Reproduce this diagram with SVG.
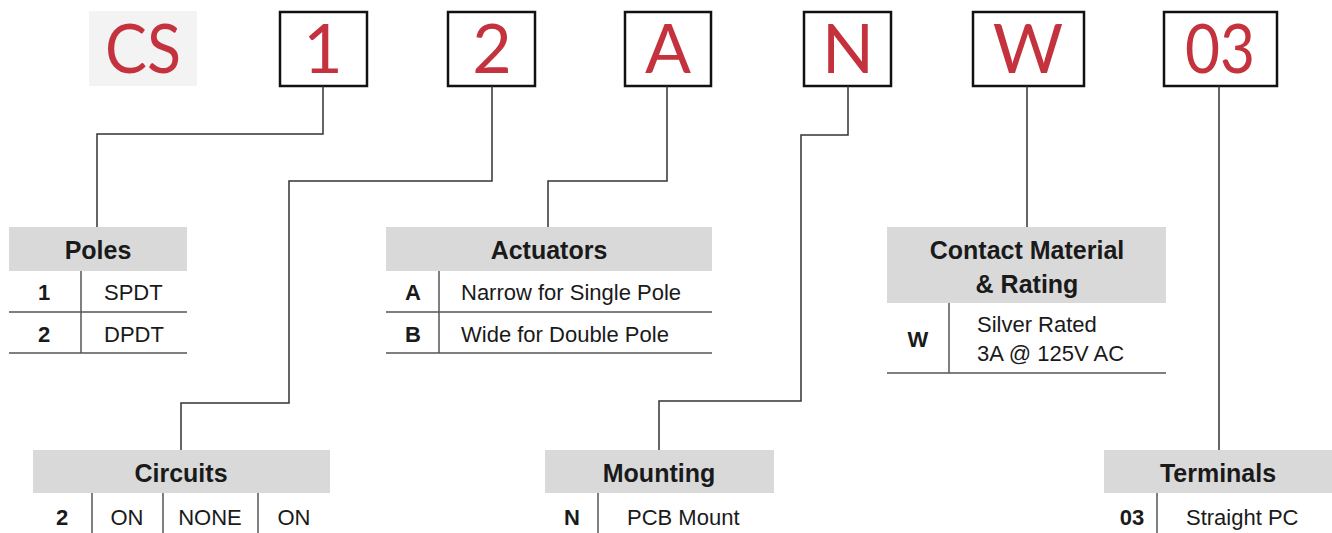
<svg xmlns="http://www.w3.org/2000/svg" width="1332" height="533" viewBox="0 0 1332 533">
<style>
.big{font-family:Lato,"Liberation Sans",Arial,sans-serif;font-weight:400;font-size:68px;fill:#c4323d;text-anchor:middle}
.box{fill:#fff;stroke:#111;stroke-width:2.5}
.hdr{fill:#d9d9d9}
.ht{font-family:"Liberation Sans",Arial,sans-serif;font-weight:bold;font-size:25px;fill:#1a1a1a;text-anchor:middle}
.bt{font-family:"Liberation Sans",Arial,sans-serif;font-size:22px;fill:#1a1a1a}
.bk{font-family:"Liberation Sans",Arial,sans-serif;font-weight:bold;font-size:22px;fill:#1a1a1a;text-anchor:middle}
.mid{text-anchor:middle}
.ln{stroke:#555;stroke-width:1.5;fill:none}
.cn{stroke:#333;stroke-width:1.5;fill:none}
</style>
<g id="code">
  <g id="code-cs"><rect x="89" y="11" width="108" height="75" fill="#f3f3f3"/><text class="big" x="143" y="73" textLength="76" lengthAdjust="spacingAndGlyphs">CS</text></g>
  <g id="code-1"><rect class="box" x="280" y="12" width="87" height="74"/><text class="big" x="323" y="73">1</text></g>
  <g id="code-2"><rect class="box" x="448" y="12" width="87" height="74"/><text class="big" x="492" y="73">2</text></g>
  <g id="code-a"><rect class="box" x="625" y="12" width="86" height="74"/><text class="big" x="668" y="73">A</text></g>
  <g id="code-n"><rect class="box" x="804" y="12" width="87" height="74"/><text class="big" x="848" y="73">N</text></g>
  <g id="code-w"><rect class="box" x="973" y="12" width="111" height="74"/><text class="big" x="1028" y="73">W</text></g>
  <g id="code-03"><rect class="box" x="1164" y="12" width="113" height="74"/><text class="big" x="1220" y="73" textLength="70" lengthAdjust="spacingAndGlyphs">03</text></g>
</g>
<g id="connectors">
  <polyline class="cn" points="323,86 323,134 97,134 97,227"/>
  <polyline class="cn" points="492,86 492,181 289,181 289,403 181,403 181,450"/>
  <polyline class="cn" points="667,86 667,181 548,181 548,227"/>
  <polyline class="cn" points="848,86 848,135 801,135 801,401 659,401 659,450"/>
  <polyline class="cn" points="1027,86 1027,227"/>
  <polyline class="cn" points="1219,86 1219,450"/>
</g>
<g id="poles">
  <rect class="hdr" x="9" y="227" width="178" height="44"/>
  <text class="ht" x="98" y="259">Poles</text>
  <line class="ln" x1="81" y1="271" x2="81" y2="353"/>
  <line class="ln" x1="9" y1="312" x2="187" y2="312"/>
  <line class="ln" x1="9" y1="353" x2="187" y2="353"/>
  <text class="bk" x="44" y="300">1</text>
  <text class="bt" x="104" y="300">SPDT</text>
  <text class="bk" x="44" y="342">2</text>
  <text class="bt" x="104" y="342">DPDT</text>
</g>
<g id="actuators">
  <rect class="hdr" x="386" y="227" width="326" height="44"/>
  <text class="ht" x="549" y="259">Actuators</text>
  <line class="ln" x1="439" y1="271" x2="439" y2="353"/>
  <line class="ln" x1="386" y1="312" x2="712" y2="312"/>
  <line class="ln" x1="386" y1="353" x2="712" y2="353"/>
  <text class="bk" x="413" y="300">A</text>
  <text class="bt" x="461" y="300">Narrow for Single Pole</text>
  <text class="bk" x="413" y="342">B</text>
  <text class="bt" x="461" y="342">Wide for Double Pole</text>
</g>
<g id="contact">
  <rect class="hdr" x="887" y="227" width="279" height="76"/>
  <text class="ht" x="1027" y="259">Contact Material</text>
  <text class="ht" x="1027" y="293">&amp; Rating</text>
  <line class="ln" x1="949" y1="303" x2="949" y2="373"/>
  <line class="ln" x1="887" y1="373" x2="1166" y2="373"/>
  <text class="bk" x="918" y="347">W</text>
  <text class="bt" x="977" y="332">Silver Rated</text>
  <text class="bt" x="977" y="361">3A @ 125V AC</text>
</g>
<g id="circuits">
  <rect class="hdr" x="33" y="450" width="297" height="43"/>
  <text class="ht" x="181" y="482">Circuits</text>
  <line class="ln" x1="92" y1="493" x2="92" y2="533"/>
  <line class="ln" x1="163" y1="493" x2="163" y2="533"/>
  <line class="ln" x1="258" y1="493" x2="258" y2="533"/>
  <text class="bk" x="62" y="525">2</text>
  <text class="bt mid" x="127" y="525">ON</text>
  <text class="bt mid" x="210" y="525">NONE</text>
  <text class="bt mid" x="294" y="525">ON</text>
</g>
<g id="mounting">
  <rect class="hdr" x="545" y="450" width="229" height="43"/>
  <text class="ht" x="659" y="482">Mounting</text>
  <line class="ln" x1="598" y1="493" x2="598" y2="533"/>
  <text class="bk" x="572" y="525">N</text>
  <text class="bt" x="627" y="525">PCB Mount</text>
</g>
<g id="terminals">
  <rect class="hdr" x="1104" y="450" width="228" height="43"/>
  <text class="ht" x="1218" y="482">Terminals</text>
  <line class="ln" x1="1157" y1="493" x2="1157" y2="533"/>
  <text class="bk" x="1132" y="525">03</text>
  <text class="bt" x="1186" y="525">Straight PC</text>
</g>
</svg>
